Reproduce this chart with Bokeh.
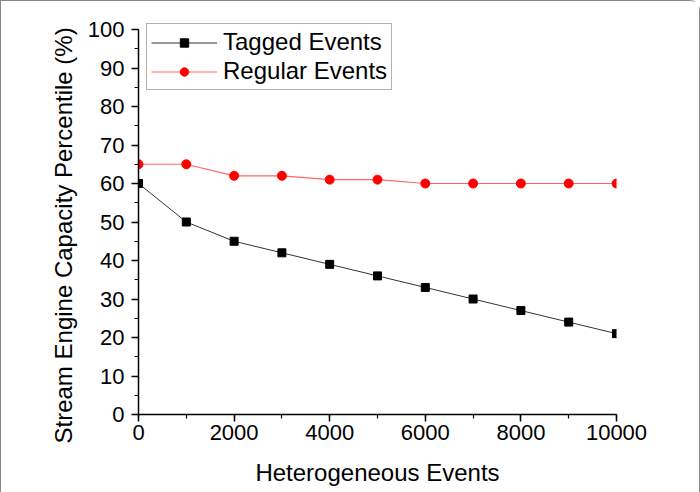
from bokeh.plotting import figure
from bokeh.models import Range1d, SingleIntervalTicker, Legend, LegendItem, Title
from bokeh.embed import file_html
from bokeh.resources import INLINE

events = [0, 1000, 2000, 3000, 4000, 5000, 6000, 7000, 8000, 9000, 10000]
tagged = [60, 50, 45, 42, 39, 36, 33, 30, 27, 24, 21]
regular = [65, 65, 62, 62, 61, 61, 60, 60, 60, 60, 60]
x_label = "Heterogeneous Events"
y_label = "Stream Engine Capacity Percentile (%)"
series_names = ["Tagged Events", "Regular Events"]

FONT = "Liberation Sans"

p = figure(width=700, height=492, output_backend="svg", toolbar_location=None,
           x_range=Range1d(0, 10000), y_range=Range1d(0, 102.08),
           min_border_left=137, min_border_right=85, min_border_top=20, min_border_bottom=79)
p.outline_line_color = None
p.xgrid.visible = False
p.ygrid.visible = False
p.background_fill_color = "white"
p.border_fill_color = "white"
p.styles = {"border-top": "1px solid #888", "border-left": "1px solid #888",
            "border-right": "1px solid #888", "border-top-right-radius": "10px",
            "box-sizing": "border-box"}

p.xaxis.ticker = SingleIntervalTicker(interval=2000, num_minor_ticks=2)
p.yaxis.ticker = SingleIntervalTicker(interval=10, num_minor_ticks=2)
p.yaxis.bounds = (0, 100)
for ax in (p.xaxis, p.yaxis):
    ax.axis_line_color = "black"
    ax.axis_line_width = 1.5
    ax.major_tick_line_color = "black"
    ax.major_tick_line_width = 1.5
    ax.minor_tick_line_color = "black"
    ax.minor_tick_line_width = 1.2
    ax.major_tick_out = 7
    ax.major_tick_in = 0
    ax.minor_tick_out = 4
    ax.minor_tick_in = 0
    ax.major_label_text_font = FONT
    ax.major_label_text_font_size = "22px"
    ax.major_label_text_color = "black"
    ax.axis_label_text_font = FONT
    ax.axis_label_text_font_size = "24px"
    ax.axis_label_text_font_style = "normal"
    ax.axis_label_text_color = "black"

p.xaxis.axis_label = x_label
p.xaxis.major_label_standoff = 3
p.yaxis.major_label_standoff = 7
p.xaxis.axis_label_standoff = 16

ytitle = Title(text=y_label, align="left", offset=-29, standoff=16,
               text_font=FONT, text_font_size="24px", text_font_style="normal",
               text_color="black")
p.add_layout(ytitle, "left")

l1 = p.line(events, tagged, line_color="#333333", line_width=1)
m1 = p.scatter(events, tagged, marker="square", size=8, fill_color="black", line_color="black")
l2 = p.line(events, regular, line_color="#ff6666", line_width=1.2)
m2 = p.scatter(events, regular, marker="circle", size=9, fill_color="red", line_color="red")

legend = Legend(items=[LegendItem(label=series_names[0], renderers=[l1, m1]),
                       LegendItem(label=series_names[1], renderers=[l2, m2])],
                location=(8, 324))
legend.label_text_font = FONT
legend.label_text_font_size = "24px"
legend.label_text_color = "black"
legend.border_line_color = "#666666"
legend.border_line_width = 1
legend.glyph_width = 66
legend.glyph_height = 21
legend.label_height = 21
legend.spacing = 1
legend.padding = 4
legend.margin = 0
legend.label_standoff = 6
p.add_layout(legend, "center")

open("out.html", "w").write(file_html(p, INLINE))
